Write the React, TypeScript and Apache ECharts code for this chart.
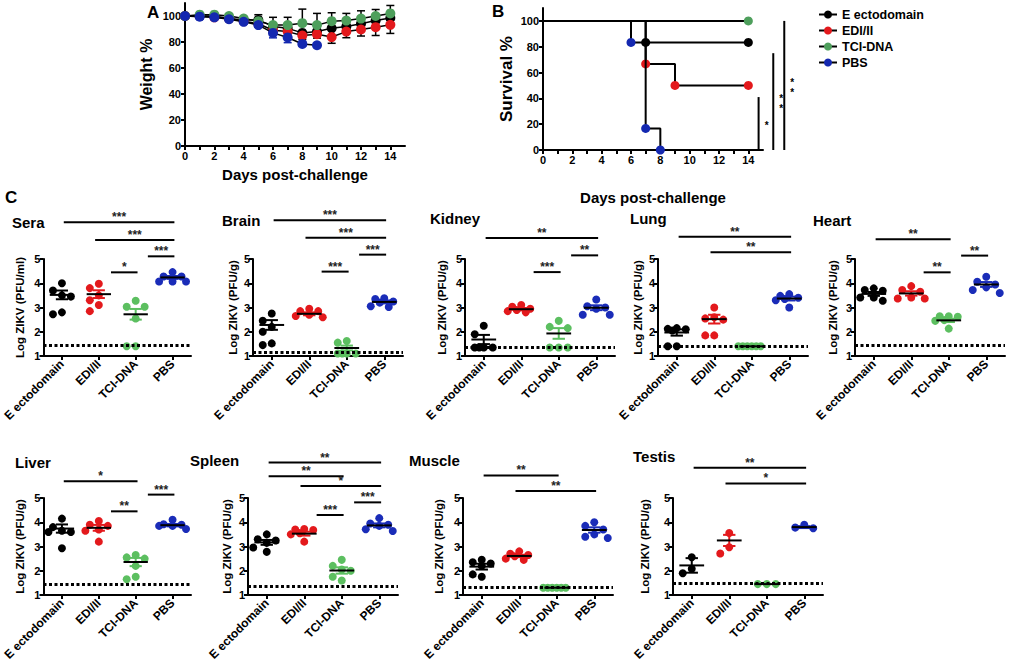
import React, { useEffect, useRef } from 'react';
import * as echarts from 'echarts';

const FONT = '"Liberation Sans", Arial, Helvetica, sans-serif';

const groups = ['E ectodomain', 'EDI/II', 'TCI-DNA', 'PBS'];
const lineColors = ['#000000', '#e3191c', '#4e9f5c', '#1428b0'];
const dotColors = ['#000000', '#e3191c', '#5cbf60', '#1a2cb8'];

// ---- Panel A: weight % ----
const weightDays = [0, 1, 2, 3, 4, 5, 6, 7, 8, 9, 10, 11, 12, 13, 14];
const weightEcto = [100, 100, 100, 98, 97, 97, 92, 90.5, 87, 88, 90.5, 92, 94, 96.5, 98.5];
const weightEdi = [100, 100, 99, 98, 96, 94, 89, 88, 85, 86, 83.8, 88, 89.6, 91.4, 93.2];
const weightTci = [100, 101, 101, 100, 98, 96, 93, 93, 94.5, 93, 96, 96.5, 98, 100, 102];
const weightPbs = [100, 99.5, 99, 97.5, 95.5, 93, 87, 83.5, 78.5, 77.5];
const weightEctoSdUp = [1, 1, 1, 1, 1, 4, 7, 8.5, 18.3, 14, 12, 10, 10, 8.5, 9.6];
const weightEdiSdDown = [1, 1, 1, 1, 1, 2, 2, 3, 3, 3, 4.8, 4.7, 5, 6.4, 6.6];
const weightPbsSd = [0.5, 1, 2, 1, 1, 1, 3.8, 4, 1.8, 0.5];

// ---- Panel B: survival % ----
const survEctoDays = [0, 7, 14];
const survEcto = [100, 83.3, 83.3];
const survEdiDays = [0, 7, 9, 14];
const survEdi = [100, 66.7, 50, 50];
const survTciDays = [0, 14];
const survTci = [100, 100];
const survPbsDays = [0, 6, 7, 8];
const survPbs = [100, 83.3, 16.7, 0];
// [x position (days), bar top (%), stars]
const survSig: [number, number, string][] = [[14.7, 41, '*'], [15.7, 75, '**'], [16.45, 100, '**']];

// ---- Panel C: Log ZIKV per tissue; [E ectodomain, EDI/II, TCI-DNA, PBS] ----
const seraPoints = [[4.0, 3.7, 3.5, 3.45, 2.8, 2.72], [3.98, 3.8, 3.5, 3.3, 3.1, 2.85], [3.28, 3.03, 3.03, 2.55, 1.4, 1.4], [4.46, 4.28, 4.28, 4.07, 4.07, 4.07]];
const seraMean = [3.52, 3.55, 2.72, 4.24];
const seraSem = [0.18, 0.16, 0.22, 0.06];
const seraLod = 1.45;
const seraSig: [number, number, string, number][] = [[0, 3, '***', 6.52], [1, 3, '***', 5.78], [2, 3, '***', 5.11], [1, 2, '*', 4.45]];

const brainPoints = [[2.75, 2.45, 2.2, 2.0, 1.52, 1.45], [2.95, 2.85, 2.85, 2.7, 2.65, 2.6], [1.62, 1.55, 1.1, 1.1, 1.1, 1.1], [3.38, 3.35, 3.25, 3.2, 3.05, 3.02]];
const brainMean = [2.28, 2.74, 1.33, 3.23];
const brainSem = [0.2, 0.06, 0.1, 0.06];
const brainLod = 1.15;
const brainSig: [number, number, string, number][] = [[0, 3, '***', 6.6], [1, 3, '***', 5.88], [2, 3, '***', 5.18], [1, 2, '***', 4.48]];

const kidneyPoints = [[2.25, 1.9, 1.35, 1.35, 1.35, 1.35], [3.1, 3.03, 2.95, 2.9, 2.85, 2.8], [2.45, 2.2, 2.15, 1.35, 1.35, 1.35], [3.33, 3.05, 3.0, 2.95, 2.7, 2.7]];
const kidneyMean = [1.68, 2.93, 1.93, 2.99];
const kidneySem = [0.19, 0.05, 0.22, 0.1];
const kidneyLod = 1.35;
const kidneySig: [number, number, string, number][] = [[0, 3, '**', 5.87], [2, 3, '**', 5.15], [1, 2, '***', 4.46]];

const lungPoints = [[2.15, 2.12, 2.1, 2.05, 1.4, 1.4], [3.0, 2.6, 2.55, 2.5, 1.85, 1.85], [1.4, 1.4, 1.4, 1.4, 1.4, 1.4], [3.55, 3.48, 3.4, 3.35, 3.3, 3.0]];
const lungMean = [1.97, 2.52, 1.4, 3.37];
const lungSem = [0.13, 0.18, 0, 0.08];
const lungLod = 1.42;
const lungSig: [number, number, string, number][] = [[0, 3, '**', 5.92], [1, 3, '**', 5.28]];

const heartPoints = [[3.79, 3.72, 3.69, 3.41, 3.41, 3.28], [3.88, 3.72, 3.65, 3.41, 3.37, 3.37], [2.64, 2.64, 2.62, 2.48, 2.45, 2.13], [4.27, 4.06, 3.95, 3.83, 3.72, 3.6]];
const heartMean = [3.56, 3.58, 2.47, 3.95];
const heartSem = [0.08, 0.09, 0.07, 0.1];
const heartLod = 1.44;
const heartSig: [number, number, string, number][] = [[0, 2, '**', 5.81], [2, 3, '**', 5.14], [1, 2, '**', 4.45]];

const liverPoints = [[4.15, 3.8, 3.65, 3.6, 3.6, 2.93], [4.05, 3.9, 3.85, 3.7, 3.65, 3.2], [2.65, 2.55, 2.5, 2.2, 1.75, 1.65], [4.1, 3.92, 3.9, 3.85, 3.85, 3.72]];
const liverMean = [3.74, 3.77, 2.36, 3.88];
const liverSem = [0.17, 0.12, 0.17, 0.05];
const liverLod = 1.45;
const liverSig: [number, number, string, number][] = [[0, 2, '*', 5.69], [2, 3, '***', 5.14], [1, 2, '**', 4.45]];

const spleenPoints = [[3.5, 3.3, 3.25, 3.15, 2.96, 2.78], [3.72, 3.7, 3.68, 3.55, 3.5, 3.2], [2.45, 2.2, 2.05, 2.0, 1.75, 1.6], [4.17, 3.95, 3.9, 3.85, 3.71, 3.64]];
const spleenMean = [3.17, 3.53, 2.01, 3.87];
const spleenSem = [0.1, 0.08, 0.13, 0.08];
const spleenLod = 1.37;
const spleenSig: [number, number, string, number][] = [[0, 3, '**', 6.46], [0, 2, '**', 5.9], [1, 3, '*', 5.49], [2, 3, '***', 4.82], [1, 2, '***', 4.3]];

const musclePoints = [[2.45, 2.35, 2.3, 2.2, 1.85, 1.75], [2.8, 2.7, 2.65, 2.6, 2.5, 2.45], [1.3, 1.3, 1.3, 1.3, 1.3, 1.3], [4.0, 3.85, 3.7, 3.5, 3.4, 3.35]];
const muscleMean = [2.17, 2.61, 1.3, 3.68];
const muscleSem = [0.12, 0.05, 0, 0.11];
const muscleLod = 1.3;
const muscleSig: [number, number, string, number][] = [[0, 2, '**', 5.93], [1, 3, '**', 5.29]];

const testisPoints = [[2.56, 2.08, 1.9], [3.56, 2.97, 2.71], [1.45, 1.45, 1.45], [3.9, 3.78, 3.75]];
const testisMean = [2.22, 3.25, 1.45, 3.8];
const testisSem = [0.3, 0.23, 0, 0.04];
const testisLod = 1.48;
const testisSig: [number, number, string, number][] = [[0, 3, '**', 6.25], [1, 3, '*', 5.6]];

const tissueNames = ['Sera', 'Brain', 'Kidney', 'Lung', 'Heart', 'Liver', 'Spleen', 'Muscle', 'Testis'];
const tissueUnits = ['(PFU/ml)', '(PFU/g)', '(PFU/g)', '(PFU/g)', '(PFU/g)', '(PFU/g)', '(PFU/g)', '(PFU/g)', '(PFU/g)'];
const tissuePoints = [seraPoints, brainPoints, kidneyPoints, lungPoints, heartPoints, liverPoints, spleenPoints, musclePoints, testisPoints];
const tissueMeans = [seraMean, brainMean, kidneyMean, lungMean, heartMean, liverMean, spleenMean, muscleMean, testisMean];
const tissueSems = [seraSem, brainSem, kidneySem, lungSem, heartSem, liverSem, spleenSem, muscleSem, testisSem];
const tissueLods = [seraLod, brainLod, kidneyLod, lungLod, heartLod, liverLod, spleenLod, muscleLod, testisLod];
const tissueSigs = [seraSig, brainSig, kidneySig, lungSig, heartSig, liverSig, spleenSig, muscleSig, testisSig];

// layout (pixels)
const boxes = [
  { l: 43, t: 259, w: 148, ng: 17, tx: 12, ty: 215 },
  { l: 253, t: 259, w: 150, ng: 14, tx: 222, ty: 213 },
  { l: 465, t: 259, w: 150, ng: 17, tx: 430, ty: 211 },
  { l: 658, t: 259, w: 150, ng: 14, tx: 630, ty: 211 },
  { l: 855, t: 259, w: 150, ng: 16, tx: 813, ty: 213 },
  { l: 43, t: 498, w: 148, ng: 17, tx: 15, ty: 455 },
  { l: 248, t: 498, w: 150, ng: 15, tx: 190, ty: 453 },
  { l: 463, t: 498, w: 150, ng: 18, tx: 409, ty: 453 },
  { l: 673, t: 498, w: 150, ng: 22, tx: 633, ty: 449 },
];
const PH = 97;

function swarm(vals: number[], pxX: number, pxY: number): number[] {
  const R = 8.6;
  const step = 9 / pxX;
  const cands = [0, -1, 1, -2, 2, -0.5, 0.5, -1.5, 1.5].map((k) => k * step).filter((o) => Math.abs(o) <= 0.42);
  const placed: [number, number][] = [];
  const order = vals.map((_, i) => i).sort((a, b) => vals[b] - vals[a]);
  const offs = new Array(vals.length).fill(0);
  for (const i of order) {
    const v = vals[i];
    let best = cands[0];
    let bestD = -1;
    for (const o of cands) {
      let md = Infinity;
      for (const [po, pv] of placed) {
        const d = Math.hypot((o - po) * pxX, (v - pv) * pxY);
        if (d < md) md = d;
      }
      if (md >= R) { best = o; break; }
      if (md > bestD) { bestD = md; best = o; }
    }
    offs[i] = best;
    placed.push([best, v]);
  }
  return offs;
}

const lbl = (size: number) => ({ color: '#000', fontWeight: 'bold' as const, fontFamily: FONT, fontSize: size });
const axisLine = { show: true, onZero: false, lineStyle: { color: '#000', width: 2 } };
const axisTick = { show: true, length: 4, lineStyle: { color: '#000', width: 2 } };

function buildOption() {
  const grids: any[] = [];
  const xAxes: any[] = [];
  const yAxes: any[] = [];
  const series: any[] = [];

  const dayTicks = weightDays;
  const dayLabels = [0, 2, 4, 6, 8, 10, 12, 14];
  const pctTicks = [0, 20, 40, 60, 80, 100];

  const dayAxis = (gi: number, gap: number) => ({
    type: 'value', gridIndex: gi, min: 0, max: 15, interval: 1,
    axisLine, axisTick: { ...axisTick, customValues: dayTicks },
    axisLabel: { ...lbl(11), margin: 4, customValues: dayLabels, formatter: (v: number) => (v % 2 === 0 && v <= 14 ? String(v) : '') },
    splitLine: { show: false },
    name: 'Days post-challenge', nameLocation: 'middle', nameGap: gap, nameTextStyle: lbl(15), nameMoveOverlap: false,
  });
  const pctAxis = (gi: number, name: string, gap: number, fs: number) => ({
    type: 'value', gridIndex: gi, min: 0, max: 110, interval: 20,
    axisLine, axisTick: { ...axisTick, customValues: pctTicks },
    axisLabel: { ...lbl(11), margin: 4, customValues: pctTicks, formatter: (v: number) => (v <= 100 ? String(v) : '') },
    splitLine: { show: false },
    name, nameLocation: 'middle', nameGap: gap, nameTextStyle: lbl(fs), nameMoveOverlap: false,
  });

  // Panel A
  grids.push({ left: 185, top: 3, width: 220, height: 143 });
  xAxes.push(dayAxis(0, 21));
  yAxes.push(pctAxis(0, 'Weight %', 31, 16));
  const errData: number[][] = [];
  weightDays.forEach((d, i) => {
    errData.push([d, weightEcto[i], weightEcto[i] + weightEctoSdUp[i], 0]);
    errData.push([d, weightEdi[i], weightEdi[i] - weightEdiSdDown[i], 1]);
  });
  weightPbs.forEach((m, i) => {
    errData.push([weightDays[i], m, m + weightPbsSd[i], 3]);
    errData.push([weightDays[i], m, m - weightPbsSd[i], 3]);
  });
  series.push({
    type: 'custom', xAxisIndex: 0, yAxisIndex: 0, z: 1, silent: true, data: errData,
    itemStyle: { color: '#000' },
    renderItem: (params: any, api: any) => {
      const d = api.value(0), a = api.value(1), b = api.value(2), ci = api.value(3);
      const p0 = api.coord([d, a]);
      const p1 = api.coord([d, b]);
      const col = ci === 3 ? lineColors[3] : '#000';
      return {
        type: 'group', children: [
          { type: 'line', shape: { x1: p0[0], y1: p0[1], x2: p1[0], y2: p1[1] }, style: { stroke: col, lineWidth: 1.5 } },
          { type: 'line', shape: { x1: p1[0] - 4, y1: p1[1], x2: p1[0] + 4, y2: p1[1] }, style: { stroke: col, lineWidth: 1.5 } },
        ],
      };
    },
  });
  const weights = [weightEcto, weightEdi, weightTci, weightPbs];
  weights.forEach((w, g) => {
    series.push({
      type: 'line', name: groups[g], xAxisIndex: 0, yAxisIndex: 0, z: 3 + g,
      data: w.map((v, i) => [weightDays[i], v]),
      symbol: 'circle', symbolSize: 10,
      itemStyle: { color: lineColors[g] }, lineStyle: { color: '#000', width: 1.5 },
    });
  });

  // Panel B
  grids.push({ left: 543, top: 8, width: 220, height: 142 });
  xAxes.push(dayAxis(1, 40));
  yAxes.push(pctAxis(1, 'Survival %', 28, 17));
  const survDays = [survEctoDays, survEdiDays, survTciDays, survPbsDays];
  const survVals = [survEcto, survEdi, survTci, survPbs];
  survVals.forEach((s, g) => {
    series.push({
      type: 'line', name: groups[g], xAxisIndex: 1, yAxisIndex: 1, step: 'end', z: 3 + g,
      data: s.map((v, i) => ({ value: [survDays[g][i], v], symbol: i === 0 ? 'none' : 'circle' })),
      symbolSize: 9, itemStyle: { color: lineColors[g] }, lineStyle: { color: '#000', width: 2 },
    });
  });
  series.push({
    type: 'custom', xAxisIndex: 1, yAxisIndex: 1, clip: false, silent: true,
    itemStyle: { color: '#000' },
    data: survSig.map((s) => [s[0], s[1]]),
    renderItem: (params: any, api: any) => {
      const s = survSig[params.dataIndex];
      const p0 = api.coord([s[0], 0]);
      const p1 = api.coord([s[0], s[1]]);
      const midY = (p0[1] + p1[1]) / 2;
      const n = s[2].length;
      const children: any[] = [
        { type: 'line', shape: { x1: p0[0], y1: p0[1], x2: p1[0], y2: p1[1] }, style: { stroke: '#000', lineWidth: 2 } },
      ];
      for (let j = 0; j < n; j++) {
        children.push({
          type: 'text', x: p0[0] + 8, y: midY + (j - (n - 1) / 2) * 10.5 + 2,
          style: { text: '*', fill: '#000', font: `bold 10px ${FONT}`, align: 'center', verticalAlign: 'middle' },
        });
      }
      return { type: 'group', children };
    },
  });

  const titles: any[] = [
    { text: 'A', left: 147, top: 4 },
    { text: 'B', left: 492, top: 3 },
    { text: 'C', left: 5, top: 189 },
  ].map((t) => ({ ...t, padding: 0, textStyle: { ...lbl(17) } }));

  // Panel C
  tissueNames.forEach((name, k) => {
    const b = boxes[k];
    const gi = grids.length;
    grids.push({ left: b.l, top: b.t, width: b.w, height: PH });
    titles.push({ text: name, left: b.tx, top: b.ty, padding: 0, textStyle: { ...lbl(15) } });
    xAxes.push({
      type: 'category', gridIndex: gi, data: groups, boundaryGap: true,
      axisLine, axisTick: { ...axisTick, alignWithLabel: true },
      axisLabel: { ...lbl(12), rotate: 45, margin: 6, interval: 0 },
      splitLine: { show: false },
    });
    const valIdx = xAxes.length;
    xAxes.push({ type: 'value', gridIndex: gi, min: -0.5, max: 3.5, show: false, position: 'bottom', axisLine: { onZero: false } });
    const yIdx = yAxes.length;
    yAxes.push({
      type: 'value', gridIndex: gi, min: 1, max: 5, interval: 1,
      axisLine, axisTick, axisLabel: { ...lbl(11), margin: 3 }, splitLine: { show: false },
      name: `Log ZIKV ${tissueUnits[k]}`, nameLocation: 'middle', nameGap: b.ng, nameTextStyle: lbl(11.5), nameMoveOverlap: false,
    });
    const pxX = b.w / 4;
    const pxY = PH / 4;
    tissuePoints[k].forEach((vals, g) => {
      const offs = swarm(vals, pxX, pxY);
      series.push({
        type: 'scatter', name: `${name} ${groups[g]}`, xAxisIndex: valIdx, yAxisIndex: yIdx, z: 2,
        data: vals.map((v, i) => [g + offs[i], v]),
        symbol: 'circle', symbolSize: 8, itemStyle: { color: dotColors[g], opacity: 1 },
        markLine: g === 0 ? {
          silent: true, symbol: ['none', 'none'], label: { show: false },
          lineStyle: { color: '#000', type: [3, 2.5], width: 3 },
          data: [{ yAxis: tissueLods[k] }],
        } : undefined,
      });
    });
    const means = tissueMeans[k];
    const sems = tissueSems[k];
    series.push({
      type: 'custom', xAxisIndex: valIdx, yAxisIndex: yIdx, z: 4, silent: true,
      itemStyle: { color: '#000' },
      data: means.map((m, i) => [i, m, sems[i]]),
      renderItem: (params: any, api: any) => {
        const c = api.value(0), m = api.value(1), s = api.value(2);
        const col = dotColors[c];
        const L = api.coord([c - 0.33, m]);
        const R = api.coord([c + 0.33, m]);
        const children: any[] = [];
        if (s > 0) {
          const T = api.coord([c, m + s]);
          const B = api.coord([c, m - s]);
          const cw = (R[0] - L[0]) * 0.25;
          children.push({ type: 'line', shape: { x1: T[0], y1: T[1], x2: B[0], y2: B[1] }, style: { stroke: col, lineWidth: 2 } });
          children.push({ type: 'line', shape: { x1: T[0] - cw, y1: T[1], x2: T[0] + cw, y2: T[1] }, style: { stroke: col, lineWidth: 2 } });
          children.push({ type: 'line', shape: { x1: B[0] - cw, y1: B[1], x2: B[0] + cw, y2: B[1] }, style: { stroke: col, lineWidth: 2 } });
        }
        children.push({ type: 'line', shape: { x1: L[0], y1: L[1], x2: R[0], y2: R[1] }, style: { stroke: '#000', lineWidth: 2 } });
        return { type: 'group', children };
      },
    });
    const sig = tissueSigs[k];
    series.push({
      type: 'custom', xAxisIndex: valIdx, yAxisIndex: yIdx, z: 4, clip: false, silent: true,
      itemStyle: { color: '#000' },
      data: sig.map((s) => [s[0], s[3], s[1]]),
      renderItem: (params: any, api: any) => {
        const [a, bb, stars, y] = sig[params.dataIndex];
        const x0 = bb - a === 1 ? a + 0.33 : a - (a > 0 ? 0.1 : -0.05);
        const x1 = bb + 0.05;
        const p0 = api.coord([x0, y]);
        const p1 = api.coord([x1, y]);
        return {
          type: 'group', children: [
            { type: 'line', shape: { x1: p0[0], y1: p0[1], x2: p1[0], y2: p1[1] }, style: { stroke: '#000', lineWidth: 2 } },
            {
              type: 'text', x: (p0[0] + p1[0]) / 2, y: p0[1] + 1,
              style: { text: stars, fill: '#222', font: `bold 12px ${FONT}`, align: 'center', verticalAlign: 'bottom' },
            },
          ],
        };
      },
    });
  });

  return {
    animation: false,
    backgroundColor: '#ffffff',
    textStyle: { fontFamily: FONT },
    title: titles,
    legend: {
      orient: 'vertical', left: 813, top: 3, itemWidth: 18, itemHeight: 10, itemGap: 3,
      selectedMode: false, data: groups, textStyle: { ...lbl(12.5) },
    },
    grid: grids,
    xAxis: xAxes,
    yAxis: yAxes,
    series,
  };
}

export default function App() {
  const ref = useRef<HTMLDivElement>(null);
  useEffect(() => {
    const chart = echarts.init(ref.current as HTMLDivElement, null, { renderer: 'svg' });
    chart.setOption(buildOption() as any);
    return () => chart.dispose();
  }, []);
  return <div ref={ref} style={{ position: 'fixed', left: 0, top: 0, width: 1013, height: 672, background: '#fff' }} />;
}
